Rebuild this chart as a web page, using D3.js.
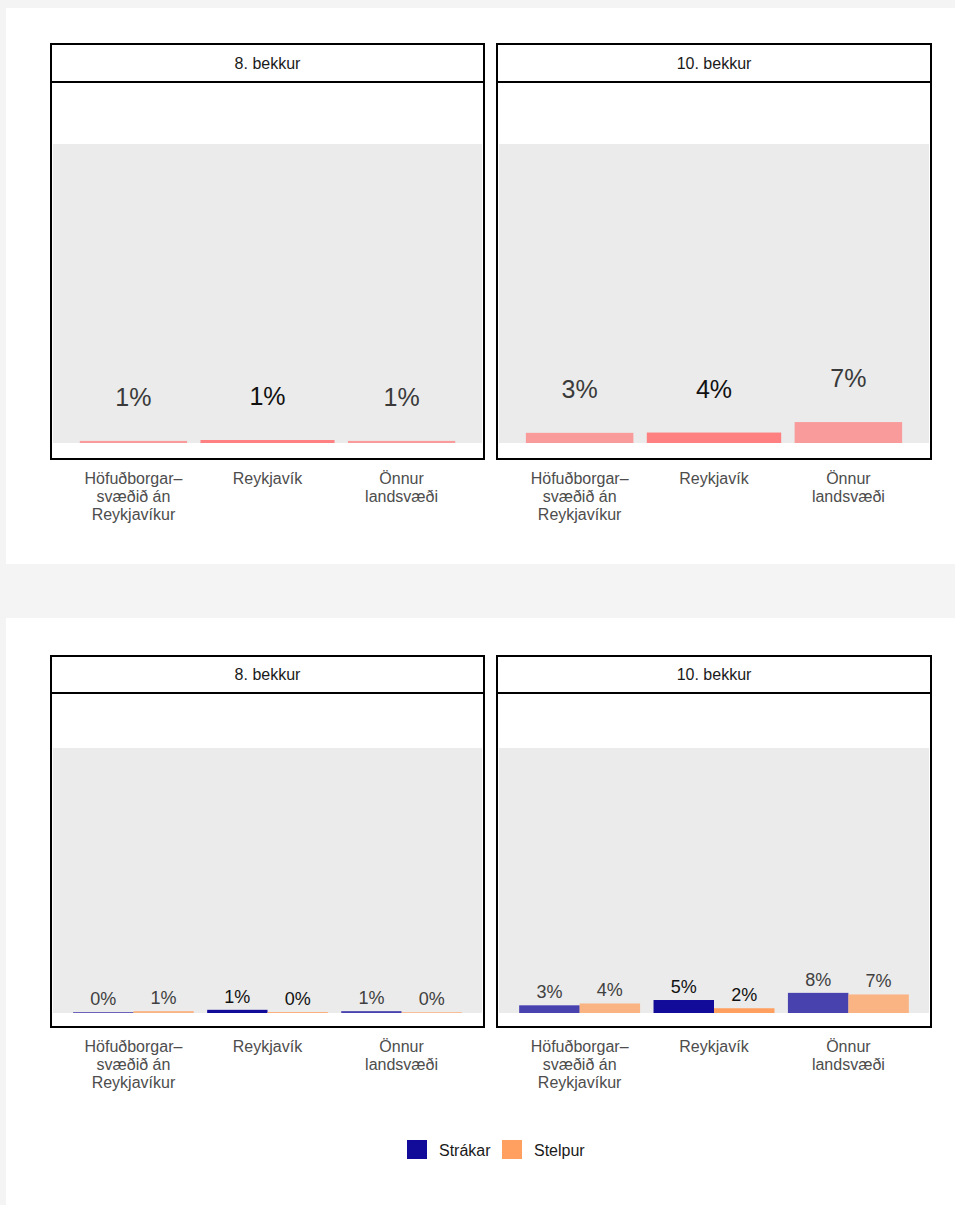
<!DOCTYPE html>
<html>
<head>
<meta charset="utf-8">
<script src="https://cdn.jsdelivr.net/npm/d3@7"></script>
<style>
  html, body { margin: 0; padding: 0; background: #f4f4f4; }
  svg { display: block; font-family: "Liberation Sans", Arial, sans-serif; }
</style>
</head>
<body>
<svg id="chart" width="955" height="1205"></svg>
<script>
// ---- data ----
const regions = ["Höfuðborgarsvæðið án Reykjavíkur", "Reykjavík", "Önnur landsvæði"];
const regionLabelLines = [["Höfuðborgar–", "svæðið án", "Reykjavíkur"], ["Reykjavík"], ["Önnur", "landsvæði"]];
const grades = ["8. bekkur", "10. bekkur"];
const highlight = "Reykjavík";
// overall (%)
const total8 = [0.7, 1.0, 0.7];
const total10 = [3.4, 3.5, 7.0];
// by gender (%)
const genders = ["Strákar", "Stelpur"];
const boys8 = [0.3, 1.2, 0.7];
const girls8 = [0.7, 0.3, 0.3];
const boys10 = [2.9, 4.9, 7.6];
const girls10 = [3.6, 1.8, 7.0];

// ---- styles ----
const totalColor = "#ff8080";
const genderColors = ["#120a99", "#ffa060"];
const fadeOpacity = 0.75;
const fmt = v => Math.round(v) + "%";

const svg = d3.select("#chart");

// cards
svg.append("rect").attr("x", 6).attr("y", 8).attr("width", 949).attr("height", 556).attr("fill", "#fff");
svg.append("rect").attr("x", 6).attr("y", 618).attr("width", 949).attr("height", 600).attr("fill", "#fff");

const panelX = [[51, 484], [497, 931]];

function drawPanel(opts) {
  const { x0, x1, stripTop, stripBot, panelBot, grayTop, grayBot, title } = opts;
  const g = svg.append("g");
  // panel white bg
  g.append("rect").attr("x", x0).attr("y", stripBot).attr("width", x1 - x0).attr("height", panelBot - stripBot).attr("fill", "#fff");
  // gray area
  g.append("rect").attr("x", x0 + 2).attr("y", grayTop).attr("width", x1 - x0 - 4).attr("height", grayBot - grayTop).attr("fill", "#ebebeb");
  // strip
  g.append("rect").attr("x", x0).attr("y", stripTop).attr("width", x1 - x0).attr("height", stripBot - stripTop)
    .attr("fill", "#fff").attr("stroke", "#000").attr("stroke-width", 2);
  g.append("text").attr("x", (x0 + x1) / 2).attr("y", (stripTop + stripBot) / 2 + 5.5)
    .attr("text-anchor", "middle").attr("font-size", 16).attr("fill", "#1a1a1a").text(title);
  // scales
  const x = d3.scaleLinear().domain([0.4, 3.6]).range([x0 + 2, x1 - 2]);
  const y = d3.scaleLinear().domain([0, 100]).range([grayBot, grayTop]);
  // axis labels
  const ax = g.append("g");
  regions.forEach((r, i) => {
    const t = ax.append("text").attr("x", x(i + 1)).attr("y", panelBot + 25)
      .attr("text-anchor", "middle").attr("font-size", 16).attr("fill", "#4d4d4d");
    regionLabelLines[i].forEach((line, j) => {
      t.append("tspan").attr("x", x(i + 1)).attr("dy", j === 0 ? 0 : 18).text(line);
    });
  });
  return { g, x, y, border: () => g.append("rect").attr("x", x0).attr("y", stripBot).attr("width", x1 - x0).attr("height", panelBot - stripBot)
    .attr("fill", "none").attr("stroke", "#000").attr("stroke-width", 2) };
}

// ---- top: totals ----
[total8, total10].forEach((vals, p) => {
  const P = drawPanel({ x0: panelX[p][0], x1: panelX[p][1], stripTop: 44, stripBot: 82, panelBot: 459, grayTop: 144, grayBot: 443, title: grades[p] });
  const { g, x, y } = P;
  vals.forEach((v, i) => {
    const hi = regions[i] === highlight;
    const w = hi ? 1.0 : 0.8;
    g.append("rect").attr("x", x(i + 1 - w / 2)).attr("width", x(i + 1 + w / 2) - x(i + 1 - w / 2))
      .attr("y", y(v)).attr("height", y(0) - y(v))
      .attr("fill", totalColor).attr("fill-opacity", hi ? 1 : fadeOpacity);
    g.append("text").attr("x", x(i + 1)).attr("y", y(v) - 35).attr("text-anchor", "middle")
      .attr("font-size", 25).attr("fill", hi ? "#111" : "#3a3a3a").text(fmt(v));
  });
  P.border();
});

// ---- bottom: by gender ----
[[boys8, girls8], [boys10, girls10]].forEach((series, p) => {
  const P = drawPanel({ x0: panelX[p][0], x1: panelX[p][1], stripTop: 656, stripBot: 693, panelBot: 1027, grayTop: 748, grayBot: 1013, title: grades[p] });
  const { g, x, y } = P;
  const bw = 0.45;
  series.forEach((vals, s) => {
    vals.forEach((v, i) => {
      const hi = regions[i] === highlight;
      const left = i + 1 - bw + s * bw;
      g.append("rect").attr("x", x(left)).attr("width", x(left + bw) - x(left))
        .attr("y", y(v)).attr("height", y(0) - y(v))
        .attr("fill", genderColors[s]).attr("fill-opacity", hi ? 1 : fadeOpacity);
      g.append("text").attr("x", x(left + bw / 2)).attr("y", y(v) - 7).attr("text-anchor", "middle")
        .attr("font-size", 18).attr("fill", hi ? "#111" : "#404040").text(fmt(v));
    });
  });
  P.border();
});

// ---- legend ----
const legend = svg.append("g");
const legendX = [407, 502];
genders.forEach((gname, i) => {
  legend.append("rect").attr("x", legendX[i]).attr("y", 1140).attr("width", 20).attr("height", 19).attr("fill", genderColors[i]);
  legend.append("text").attr("x", legendX[i] + 32).attr("y", 1155.5).attr("font-size", 16).attr("fill", "#1a1a1a").text(gname);
});
</script>
</body>
</html>
